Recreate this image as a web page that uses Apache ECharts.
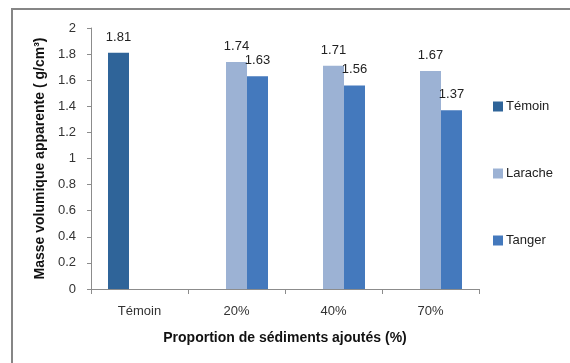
<!DOCTYPE html>
<html>
<head>
<meta charset="utf-8">
<script src="https://cdn.jsdelivr.net/npm/echarts@6/dist/echarts.min.js"></script>
<style>
  html, body { margin: 0; padding: 0; background: #fff; }
  #chart { width: 570px; height: 363px; }
</style>
</head>
<body>
<div id="chart"></div>
<script>
// categories and values
var categories = ['Témoin', '20%', '40%', '70%'];
var temoinValues = [1.81, null, null, null];
var laracheValues = [null, 1.74, 1.71, 1.67];
var tangerValues = [null, 1.63, 1.56, 1.37];
var yTicks = { min: 0, max: 2, interval: 0.2 };

var chart = echarts.init(document.getElementById('chart'));
var font = 'Liberation Sans';

function barSeries(name, data, color) {
  return {
    name: name,
    type: 'bar',
    barWidth: 21,
    barGap: '0%',
    itemStyle: { color: color },
    label: {
      show: true,
      position: 'top',
      distance: 9,
      color: '#222',
      fontFamily: font,
      fontSize: 13
    },
    data: data
  };
}

var option = {
  backgroundColor: '#ffffff',
  animation: false,
  textStyle: { fontFamily: font },
  // outer chart frame, only its left and top edges are inside the picture
  graphic: [{
    type: 'polyline',
    shape: { points: [[12, 400], [12, 9], [600, 9]] },
    style: { fill: null, stroke: '#868686', lineWidth: 2 },
    silent: true
  }],
  grid: { left: 91, right: 91, top: 28, bottom: 74 },
  legend: {
    orient: 'vertical',
    left: 488,
    top: 95,
    itemWidth: 10,
    itemHeight: 10,
    itemGap: 54,
    icon: 'rect',
    textStyle: { color: '#222', fontSize: 13, fontFamily: font, padding: [0, 0, 0, -2] },
    data: ['Témoin', 'Larache', 'Tanger']
  },
  xAxis: {
    type: 'category',
    data: categories,
    name: 'Proportion de sédiments ajoutés (%)',
    nameLocation: 'middle',
    nameGap: 42,
    nameTextStyle: { fontWeight: 'bold', fontSize: 14, color: '#111', fontFamily: font },
    axisLine: { lineStyle: { color: '#8c8c8c', width: 1 } },
    axisTick: { show: true, length: 5, lineStyle: { color: '#8c8c8c' } },
    axisLabel: { color: '#333', fontSize: 13, margin: 16, fontFamily: font }
  },
  yAxis: {
    type: 'value',
    min: yTicks.min,
    max: yTicks.max,
    interval: yTicks.interval,
    name: 'Masse volumique apparente ( g/cm³)',
    nameLocation: 'middle',
    nameGap: 37,
    nameTextStyle: { fontWeight: 'bold', fontSize: 14, color: '#111', fontFamily: font },
    axisLine: { show: true, lineStyle: { color: '#8c8c8c', width: 1 } },
    axisTick: { show: true, length: 4, lineStyle: { color: '#8c8c8c' } },
    splitLine: { show: false },
    axisLabel: { color: '#333', fontSize: 13, margin: 15, fontFamily: font }
  },
  series: [
    barSeries('Témoin', temoinValues, '#2f6499'),
    barSeries('Larache', laracheValues, '#9cb2d4'),
    barSeries('Tanger', tangerValues, '#4479bd')
  ]
};

chart.setOption(option);
</script>
</body>
</html>
